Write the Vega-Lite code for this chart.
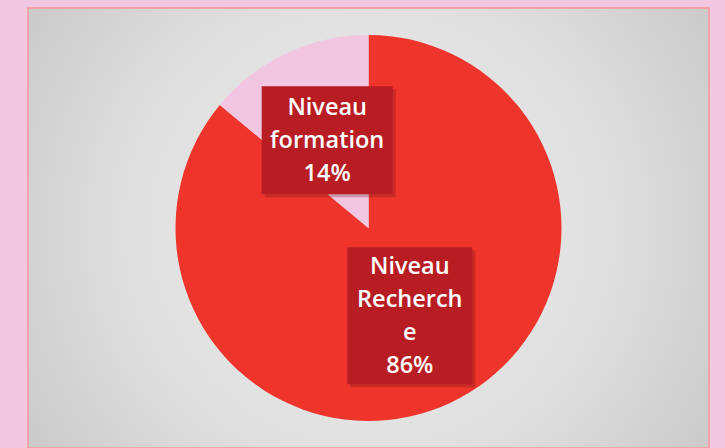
{
  "$schema": "https://vega.github.io/schema/vega-lite/v6.json",
  "width": 681,
  "height": 440,
  "autosize": {"type": "none"},
  "padding": {"left": 28, "top": 8, "right": 16, "bottom": 0},
  "background": "#F2C7E2",
  "config": {
    "view": {
      "stroke": "#F2A3AA",
      "strokeWidth": 2,
      "fill": {"gradient": "radial", "x1": 0.5, "y1": 0.5, "r1": 0, "x2": 0.5, "y2": 0.5, "r2": 0.72,
        "stops": [{"offset": 0, "color": "#F2F2F2"}, {"offset": 0.55, "color": "#DCDCDC"}, {"offset": 1, "color": "#BEBEBE"}]}
    }
  },
  "data": {
    "values": [
      {"category": "Niveau Recherche", "label": "Niveau\nRecherch\ne\n86%", "value": 86, "order": 1},
      {"category": "Niveau formation", "label": "Niveau\nformation\n14%", "value": 14, "order": 2}
    ]
  },
  "transform": [
    {"joinaggregate": [{"op": "sum", "field": "value", "as": "total"}]},
    {"window": [{"op": "sum", "field": "value", "as": "cum"}], "sort": [{"field": "order"}], "frame": [null, 0]},
    {"calculate": "(datum.cum - datum.value / 2) / datum.total * 2 * PI", "as": "mid"},
    {"calculate": "sin(datum.mid) * 97", "as": "cx"},
    {"calculate": "cos(datum.mid) * 97", "as": "cy"},
    {"calculate": "length(split(datum.label, '\\n'))", "as": "lines"},
    {"calculate": "datum.cy + (datum.lines - 1) * 33 / 2 - 1", "as": "ty"},
    {"calculate": "datum.lines > 3 ? 62.5 : 65.5", "as": "hw"},
    {"calculate": "(21 + 29 * datum.lines) / 2", "as": "hh"},
    {"calculate": "datum.cx - datum.hw", "as": "bx1"},
    {"calculate": "datum.cx + datum.hw", "as": "bx2"},
    {"calculate": "datum.cy - datum.hh", "as": "by1"},
    {"calculate": "datum.cy + datum.hh", "as": "by2"},
    {"calculate": "datum.bx1 + 3", "as": "sx1"},
    {"calculate": "datum.bx2 + 3", "as": "sx2"},
    {"calculate": "datum.by1 - 3", "as": "sy1"},
    {"calculate": "datum.by2 - 3", "as": "sy2"}
  ],
  "layer": [
    {
      "mark": {"type": "arc", "outerRadius": 193},
      "encoding": {
        "theta": {"field": "value", "type": "quantitative", "stack": true},
        "order": {"field": "order", "type": "quantitative"},
        "color": {"field": "category", "type": "nominal",
          "scale": {"domain": ["Niveau Recherche", "Niveau formation"], "range": ["#EE342B", "#F2C6E0"]},
          "legend": null}
      }
    },
    {
      "mark": {"type": "rect", "color": "#5A1012", "opacity": 0.25},
      "encoding": {
        "x": {"field": "sx1", "type": "quantitative", "scale": {"domain": [-340.5, 340.5]}, "axis": null},
        "x2": {"field": "sx2"},
        "y": {"field": "sy1", "type": "quantitative", "scale": {"domain": [-220, 220]}, "axis": null},
        "y2": {"field": "sy2"}
      }
    },
    {
      "mark": {"type": "rect", "color": "#B81D23"},
      "encoding": {
        "x": {"field": "bx1", "type": "quantitative", "scale": {"domain": [-340.5, 340.5]}, "axis": null},
        "x2": {"field": "bx2"},
        "y": {"field": "by1", "type": "quantitative", "scale": {"domain": [-220, 220]}, "axis": null},
        "y2": {"field": "by2"}
      }
    },
    {
      "mark": {"type": "text", "color": "white", "font": "Open Sans", "fontWeight": 600, "fontSize": 23.5,
        "lineBreak": "\n", "lineHeight": 33, "align": "center", "baseline": "middle"},
      "encoding": {
        "x": {"field": "cx", "type": "quantitative", "scale": {"domain": [-340.5, 340.5]}, "axis": null},
        "y": {"field": "ty", "type": "quantitative", "scale": {"domain": [-220, 220]}, "axis": null},
        "text": {"field": "label"}
      }
    }
  ]
}
